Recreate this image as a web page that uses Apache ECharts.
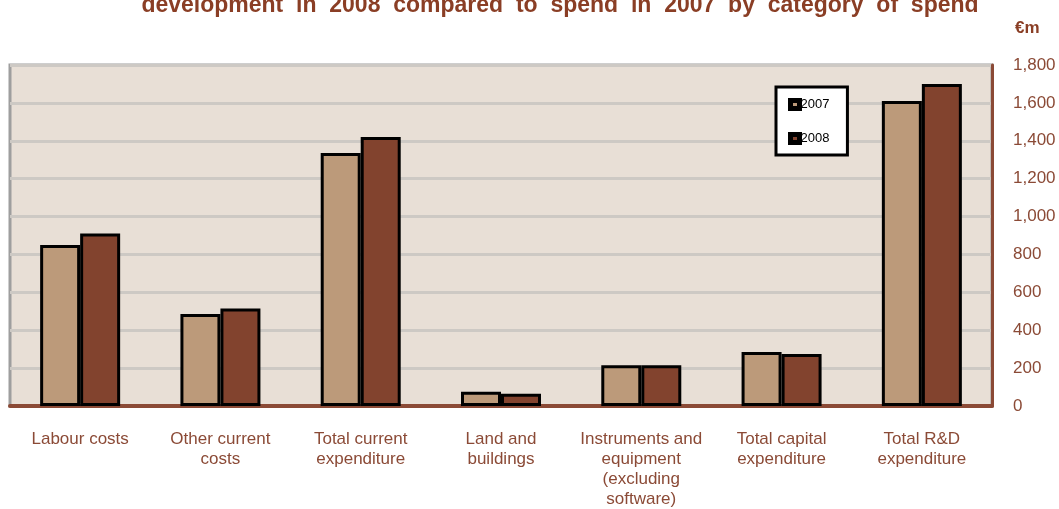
<!DOCTYPE html>
<html>
<head>
<meta charset="utf-8">
<script src="https://cdn.jsdelivr.net/npm/echarts@6/dist/echarts.min.js"></script>
<style>
  html, body { margin: 0; padding: 0; background: #fff; }
  #chart { width: 1059px; height: 509px; }
</style>
</head>
<body>
<div id="chart"></div>
<script>
// Business R&D spend by category, 2007 vs 2008 (€m)
const categories = [
  'Labour costs',
  'Other current\ncosts',
  'Total current\nexpenditure',
  'Land and\nbuildings',
  'Instruments and\nequipment\n(excluding\nsoftware)',
  'Total capital\nexpenditure',
  'Total R&D\nexpenditure'
];
const spend2007 = [850, 485, 1335, 75, 215, 285, 1610];
const spend2008 = [910, 515, 1420, 65, 215, 275, 1700];
const seriesNames = ['2007', '2008'];
const titleText = 'development  in  2008  compared  to  spend  in  2007  by  category  of  spend';
const unitText = '€m';

const BROWN = '#8B4A36';
const FONT = '"Liberation Sans", Arial, sans-serif';

const chart = echarts.init(document.getElementById('chart'), null, { renderer: 'canvas' });

chart.setOption({
  animation: false,
  backgroundColor: '#ffffff',
  textStyle: { fontFamily: FONT },
  graphic: [
    {
      type: 'text',
      style: {
        text: titleText, x: 560, y: 17,
        font: 'bold 23px ' + FONT, fill: '#8A3E25',
        align: 'center', verticalAlign: 'bottom'
      }
    },
    {
      type: 'text',
      style: {
        text: unitText, x: 1015, y: 28,
        font: 'bold 17px ' + FONT, fill: '#8A3E25',
        align: 'left', verticalAlign: 'middle'
      }
    }
  ],
  grid: {
    left: 10, right: 67, top: 65, bottom: 102,
    show: true,
    backgroundColor: '#E8DFD6',
    borderColor: '#9E9E9E',
    borderWidth: 3
  },
  legend: {
    data: seriesNames,
    orient: 'vertical',
    left: 776, top: 87,
    backgroundColor: '#ffffff',
    borderColor: '#000000',
    borderWidth: 3,
    borderRadius: 0,
    padding: [11, 18, 10, 12],
    itemGap: 21,
    itemWidth: 9,
    itemHeight: 8,
    icon: 'rect',
    itemStyle: { borderColor: '#000', borderWidth: 5 },
    textStyle: { color: '#000', fontSize: 13, fontFamily: FONT, padding: [0, 0, 0, -4] }
  },
  xAxis: {
    type: 'category',
    data: categories,
    axisTick: { show: false },
    axisLine: { show: true, lineStyle: { color: BROWN, width: 4 } },
    axisLabel: {
      color: BROWN, fontSize: 17, fontFamily: FONT,
      lineHeight: 20, margin: 23, interval: 0
    },
    splitLine: { show: false }
  },
  yAxis: {
    type: 'value',
    position: 'right',
    min: 0, max: 1800, interval: 200,
    axisLine: { show: true, lineStyle: { color: BROWN, width: 3 } },
    axisTick: { show: false },
    axisLabel: {
      color: BROWN, fontSize: 17, fontFamily: FONT, margin: 21,
      formatter: v => v.toLocaleString('en-US')
    },
    splitLine: { show: true, lineStyle: { color: '#CDC9C4', width: 3 } }
  },
  series: [
    {
      name: seriesNames[0], type: 'bar', data: spend2007,
      barWidth: 40, barGap: '0%',
      itemStyle: { color: '#BC9A7A', borderColor: '#000', borderWidth: 3 }
    },
    {
      name: seriesNames[1], type: 'bar', data: spend2008,
      barWidth: 40, barGap: '0%',
      itemStyle: { color: '#82432E', borderColor: '#000', borderWidth: 3 }
    }
  ]
});
</script>
</body>
</html>
